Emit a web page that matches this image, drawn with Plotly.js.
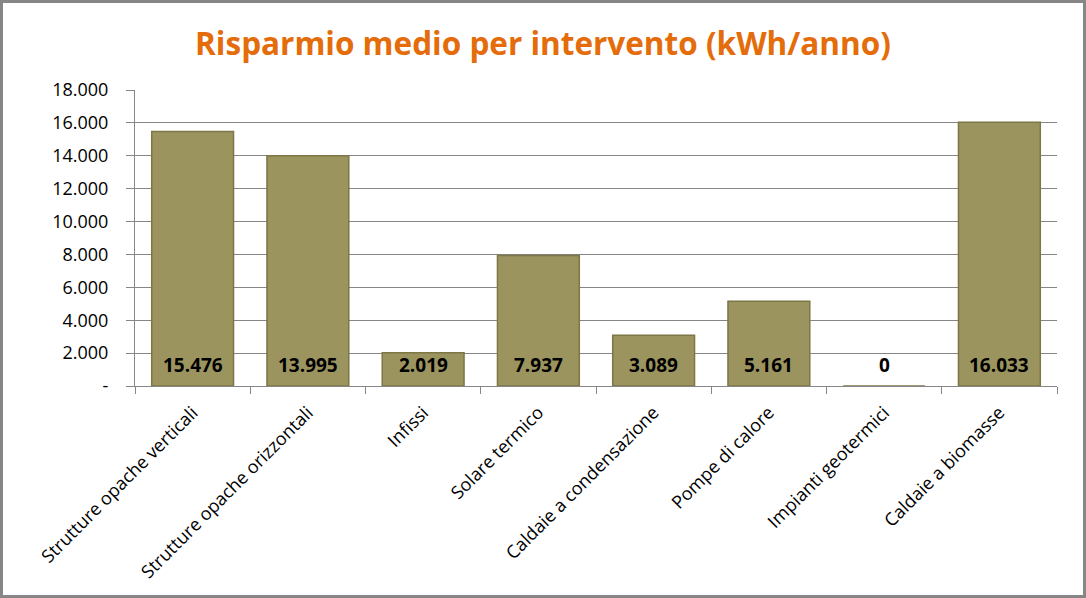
<!DOCTYPE html>
<html><head><meta charset="utf-8">
<script src="https://cdn.plot.ly/plotly-3.0.1.min.js"></script>
<style>
html,body{margin:0;padding:0;background:#fff;}
#chart{width:1080px;height:592px;border:3px solid #868686;}
</style></head>
<body><div id="chart"></div>
<script>
var categories = ["Strutture opache verticali","Strutture opache orizzontali","Infissi","Solare termico","Caldaie a condensazione","Pompe di calore","Impianti geotermici","Caldaie a biomasse"];
var values = [15476, 13995, 2019, 7937, 3089, 5161, 0, 16033];
var yTickVals = [0, 2000, 4000, 6000, 8000, 10000, 12000, 14000, 16000, 18000];
var yTickText = ["-", "2.000", "4.000", "6.000", "8.000", "10.000", "12.000", "14.000", "16.000", "18.000"];

function fmt(v){ return v === 0 ? "0" : v.toString().replace(/\B(?=(\d{3})+(?!\d))/g, "."); }

var FONT = "'Open Sans', sans-serif";

var bar = {
  type: "bar", x: categories, y: values,
  marker: {color: "#9c945f", line: {color: "#7d7646", width: 1.5}},
  width: 0.71, hoverinfo: "x+y"
};

var annotations = categories.map(function(c, i){
  return {x: c, y: 0, xref: "x", yref: "y", text: "<b>" + fmt(values[i]) + "</b>",
    showarrow: false, yanchor: "bottom", yshift: 6,
    font: {family: FONT, size: 19, color: "#000"}};
});

var layout = {
  width: 1080, height: 592,
  margin: {l: 132, r: 26, t: 87, b: 209},
  paper_bgcolor: "#fff", plot_bgcolor: "#fff",
  title: {text: "<b>Risparmio medio per intervento (kWh/anno)</b>", x: 0.5, xanchor: "center", y: 0.93, yanchor: "middle",
    font: {family: FONT, size: 31.5, color: "#e46c0a"}},
  showlegend: false,
  bargap: 0.29,
  xaxis: {
    type: "category", tickangle: -45, tickfont: {family: FONT, size: 18, color: "#000"},
    showline: true, linecolor: "#868686", linewidth: 1,
    ticks: "outside", ticklen: 7, tickcolor: "#868686", tickson: "boundaries",
    showgrid: false, automargin: false, ticklabelstandoff: 8
  },
  yaxis: {
    range: [0, 18000], tickvals: yTickVals, ticktext: yTickText,
    tickfont: {family: FONT, size: 18, color: "#000"},
    showline: true, linecolor: "#868686", linewidth: 1,
    ticks: "outside", ticklen: 8, tickcolor: "#868686",
    showgrid: true, gridcolor: "#868686", gridwidth: 1, zeroline: false,
    ticklabelstandoff: 14, automargin: false
  },
  annotations: annotations
};

Plotly.newPlot("chart", [bar], layout, {displayModeBar: false, staticPlot: true});
</script></body></html>
